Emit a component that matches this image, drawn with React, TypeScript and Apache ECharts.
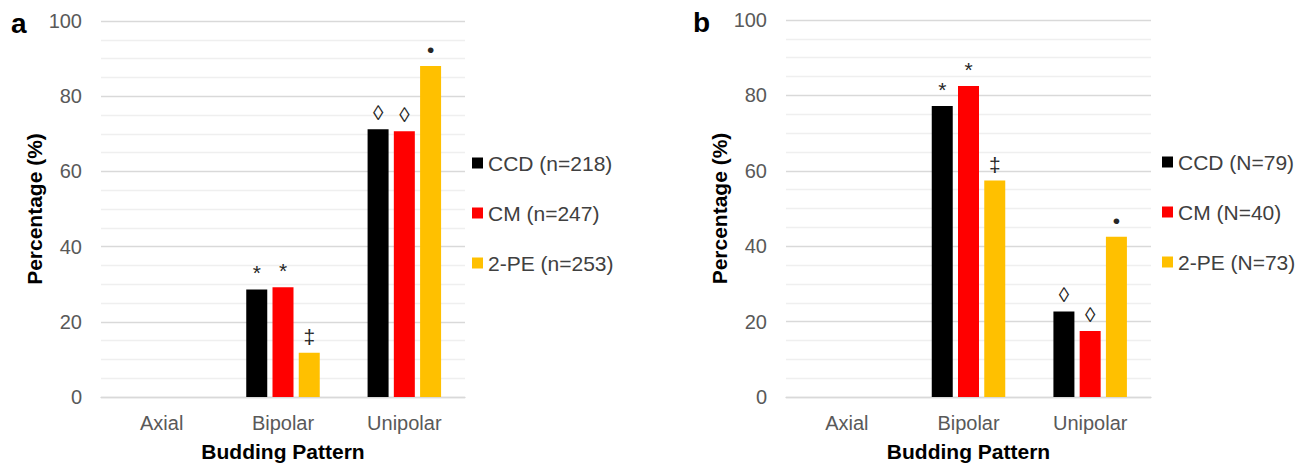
import React, { useEffect, useRef } from "react";
import * as echarts from "echarts";

const categories = ["Axial", "Bipolar", "Unipolar"];
const yTicks = { min: 0, max: 100, interval: 20 };

const namesA = ["CCD (n=218)", "CM (n=247)", "2-PE (n=253)"];
const ccdA = [0, 28.6, 71.2];
const cmA = [0, 29.2, 70.7];
const peA = [0, 11.8, 88.0];
const marksCcdA = ["", "*", "◊"];
const marksCmA = ["", "*", "◊"];
const marksPeA = ["", "‡", "•"];

const namesB = ["CCD (N=79)", "CM (N=40)", "2-PE (N=73)"];
const ccdB = [0, 77.2, 22.7];
const cmB = [0, 82.5, 17.5];
const peB = [0, 57.4, 42.5];
const marksCcdB = ["", "*", "◊"];
const marksCmB = ["", "*", "◊"];
const marksPeB = ["", "‡", "•"];

const colors = ["#000000", "#FF0000", "#FFC000"];
const FONT = "Liberation Sans, Arial, sans-serif";

export default function App() {
  const ref = useRef<HTMLDivElement>(null);
  useEffect(() => {
    if (!ref.current) return;
    const chart = echarts.init(ref.current, null, { renderer: "svg" });

    const mkX = (gi: number) => ({
      type: "category",
      gridIndex: gi,
      data: categories,
      axisTick: { show: false },
      axisLine: { lineStyle: { color: "#d9d9d9", width: 1.3 } },
      axisLabel: { color: "#595959", fontSize: 20, fontFamily: FONT, margin: 16 },
      name: "Budding Pattern",
      nameLocation: "middle",
      nameGap: 44,
      nameTextStyle: { color: "#000", fontSize: 21, fontWeight: "bold", fontFamily: FONT },
    });
    const mkY = (gi: number) => ({
      type: "value",
      gridIndex: gi,
      min: yTicks.min,
      max: yTicks.max,
      interval: yTicks.interval,
      axisLine: { show: false },
      axisTick: { show: false },
      axisLabel: { color: "#595959", fontSize: 20, fontFamily: FONT, margin: 19 },
      splitLine: { lineStyle: { color: "#d9d9d9", width: 1.3 } },
      minorTick: { show: false, splitNumber: 4 },
      minorSplitLine: { show: true, lineStyle: { color: "#efefef", width: 1.3 } },
      name: "Percentage (%)",
      nameLocation: "middle",
      nameRotate: 90,
      nameGap: 50,
      nameTextStyle: { color: "#000", fontSize: 21, fontWeight: "bold", fontFamily: FONT },
    });

    const mkSeries = (name: string, data: number[], marks: string[], color: string, gi: number) => ({
      type: "bar",
      name,
      xAxisIndex: gi,
      yAxisIndex: gi,
      data,
      barWidth: 21,
      barGap: "25%",
      itemStyle: { color },
      label: {
        show: true,
        position: "top",
        distance: 6,
        formatter: (p: any) => marks[p.dataIndex] || "",
        color: "#262626",
        fontSize: 21,
        fontFamily: FONT,
      },
    });

    const legendCommon = {
      orient: "vertical",
      icon: "rect",
      itemWidth: 11,
      itemHeight: 11,
      itemGap: 26,
      padding: 0,
      itemStyle: { borderWidth: 0 },
      textStyle: { color: "#404040", fontSize: 21, fontFamily: FONT, lineHeight: 24 },
      selectedMode: false,
    };

    chart.setOption({
      animation: false,
      color: colors,
      title: [
        { text: "a", left: 6, top: 4, textStyle: { fontSize: 28, fontWeight: "bold", color: "#000", fontFamily: FONT } },
        { text: "b", left: 688, top: 3, textStyle: { fontSize: 28, fontWeight: "bold", color: "#000", fontFamily: FONT } },
      ],
      grid: [
        { left: 101, top: 21, width: 364, height: 376, outerBoundsMode: "none" },
        { left: 786, top: 20, width: 365, height: 377, outerBoundsMode: "none" },
      ],
      xAxis: [mkX(0), mkX(1)],
      yAxis: [mkY(0), mkY(1)],
      legend: [
        { ...legendCommon, data: namesA, left: 472, top: 151 },
        { ...legendCommon, data: namesB, left: 1162, top: 150 },
      ],
      series: [
        mkSeries(namesA[0], ccdA, marksCcdA, colors[0], 0),
        mkSeries(namesA[1], cmA, marksCmA, colors[1], 0),
        mkSeries(namesA[2], peA, marksPeA, colors[2], 0),
        mkSeries(namesB[0], ccdB, marksCcdB, colors[0], 1),
        mkSeries(namesB[1], cmB, marksCmB, colors[1], 1),
        mkSeries(namesB[2], peB, marksPeB, colors[2], 1),
      ],
    });
    return () => chart.dispose();
  }, []);
  return (
    <div
      ref={ref}
      style={{ position: "fixed", left: 0, top: 0, width: 1309, height: 466, background: "#fff" }}
    />
  );
}
